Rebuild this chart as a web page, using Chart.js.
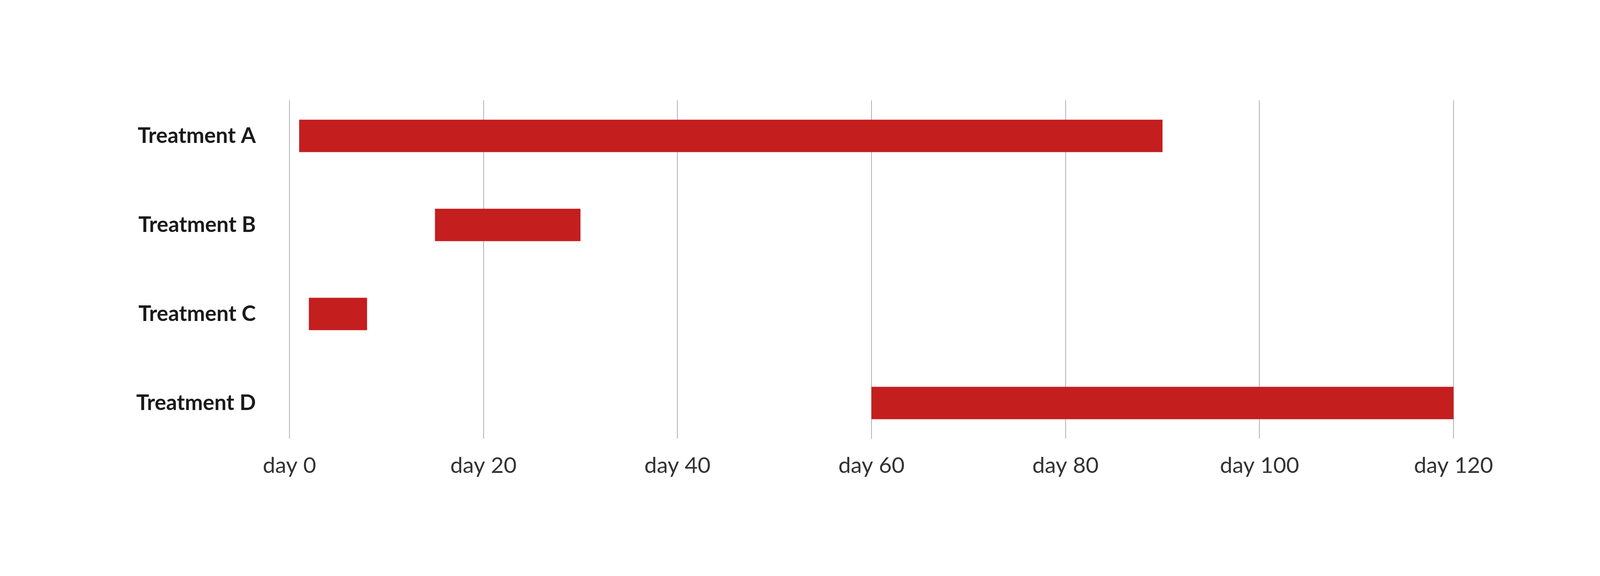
<!DOCTYPE html>
<html>
<head>
<meta charset="utf-8">
<title>Treatment timeline</title>
<script src="https://cdn.jsdelivr.net/npm/chart.js@4.4.1/dist/chart.umd.min.js"></script>
<style>
  html, body { margin: 0; padding: 0; background: #ffffff; overflow: hidden; }
  #wrap { width: 4167px; height: 1475px; }
  canvas { display: block; }
</style>
</head>
<body>
<div id="wrap"><canvas id="timelineChart" width="4167" height="1475"></canvas></div>
<script>
// Chart data
const categories = ['Treatment A', 'Treatment B', 'Treatment C', 'Treatment D'];
const startDays = [1, 15, 2, 60];
const endDays = [90, 30, 8, 120];
const tickValues = [0, 20, 40, 60, 80, 100, 120];
const tickLabels = ['day 0', 'day 20', 'day 40', 'day 60', 'day 80', 'day 100', 'day 120'];

const barColor = '#c41e1f';

// Vertical day lines, a bit shorter than the category band
const dayGrid = {
    id: 'dayGrid',
    beforeDatasetsDraw(chart) {
        const xs = chart.scales.x;
        const ys = chart.scales.y;
        const step = ys.getPixelForValue(1) - ys.getPixelForValue(0);
        const top = ys.getPixelForValue(0) - step * 0.4;
        const bottom = ys.getPixelForValue(categories.length - 1) + step * 0.4;
        const ctx = chart.ctx;
        ctx.save();
        ctx.strokeStyle = '#b0b0b0';
        ctx.lineWidth = 2;
        xs.ticks.forEach(t => {
            const px = Math.round(xs.getPixelForValue(t.value));
            ctx.beginPath();
            ctx.moveTo(px, top);
            ctx.lineTo(px, bottom);
            ctx.stroke();
        });
        ctx.restore();
    }
};

const ctx = document.getElementById('timelineChart').getContext('2d');
const timelineChart = new Chart(ctx, {
    type: 'bar',
    data: {
        labels: categories,
        datasets: [{
            data: categories.map((c, i) => [startDays[i], endDays[i]]),
            backgroundColor: barColor,
            borderWidth: 0,
            borderSkipped: false,
            categoryPercentage: 1,
            barPercentage: 0.364
        }]
    },
    options: {
        indexAxis: 'y',
        responsive: false,
        animation: false,
        devicePixelRatio: 1,
        layout: { padding: { left: 0, right: 446, top: 234, bottom: 0 } },
        plugins: {
            legend: { display: false },
            tooltip: { enabled: false }
        },
        scales: {
            x: {
                min: 0,
                max: 120,
                afterBuildTicks: scale => {
                    scale.ticks = tickValues.map(v => ({ value: v }));
                },
                afterFit: scale => { scale.height = 329; },
                grid: { display: false, drawTicks: false },
                border: { display: false },
                ticks: {
                    padding: 12,
                    maxRotation: 0,
                    color: '#333333',
                    font: { family: 'Lato', size: 57 },
                    callback: (value, index) => tickLabels[index]
                }
            },
            y: {
                afterFit: scale => { scale.width = 741; },
                grid: { display: false, drawTicks: false },
                border: { display: false },
                ticks: {
                    padding: 86,
                    color: '#1a1a1a',
                    font: { family: 'Lato', size: 55, weight: 'bold' }
                }
            }
        }
    },
    plugins: [dayGrid]
});
</script>
</body>
</html>
